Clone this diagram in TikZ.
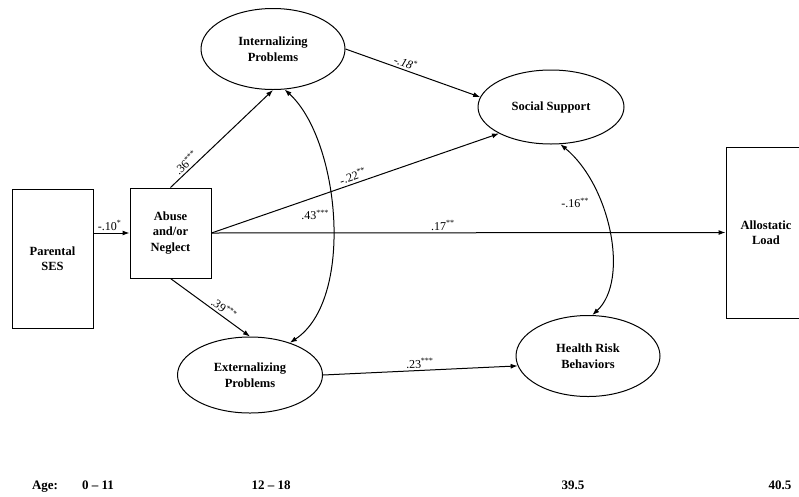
\documentclass[tikz,border=0pt]{standalone}
\usepackage{fontspec}
\setmainfont{Liberation Serif}
\usetikzlibrary{shapes.geometric,arrows.meta}
\begin{document}
\begin{tikzpicture}[x=1pt,y=-1pt,
  box/.style={draw, line width=1pt, rectangle, align=center, inner sep=0pt,
    font=\fontsize{12.5}{15.5}\selectfont\bfseries},
  oval/.style={draw, line width=1pt, ellipse, align=center, inner sep=0pt,
    font=\fontsize{12.5}{15.5}\selectfont\bfseries},
  conn/.style={line width=1pt, -{Latex[length=7pt,width=5pt]}},
  twoway/.style={line width=1pt, {Latex[length=7pt,width=5pt]}-{Latex[length=7pt,width=5pt]}},
  lab/.style={font=\fontsize{12}{14}\selectfont, inner sep=2pt},
  agelab/.style={font=\fontsize{13}{15}\selectfont\bfseries, inner sep=0pt, anchor=base}]
\useasboundingbox (0,0) rectangle (799,496);
\fill[white] (0,0) rectangle (799,496);

\node[box, minimum width=81pt, minimum height=139pt] (ses) at (52.5,258.5) {Parental\\SES};
\node[box, minimum width=81pt, minimum height=90pt] (abuse) at (170.5,233) {Abuse\\and/or\\Neglect};
\node[oval, minimum width=144pt, minimum height=81pt] (intern) at (273,49) {Internalizing\\Problems};
\node[oval, minimum width=146pt, minimum height=74pt] (social) at (551,107) {Social Support};
\node[oval, minimum width=145pt, minimum height=76pt] (extern) at (250,375) {Externalizing\\Problems};
\node[oval, minimum width=144pt, minimum height=81pt] (health) at (588,356) {Health Risk\\Behaviors};
\node[box, minimum width=80pt, minimum height=171pt] (allo) at (766,232.5) {Allostatic\\Load};

\draw[conn] (ses.east |- abuse.west) -- node[lab, above, pos=0.45] {-.10\textsuperscript{*}} (abuse.west);
\draw[conn] (abuse.north) -- node[lab, sloped, above, pos=0.2] {.36\textsuperscript{***}} (intern.south);
\draw[conn] (abuse.south) -- node[lab, sloped, above, pos=0.62] {.39\textsuperscript{***}} (extern.north);
\draw[conn] (abuse.east) -- node[lab, sloped, above, pos=0.5] {-.22\textsuperscript{**}} (social.south west);
\draw[conn] (abuse.east) -- node[lab, above, pos=0.45] {.17\textsuperscript{**}} (allo.west);
\draw[conn] (intern.east) -- node[lab, sloped, above, pos=0.43] {\textit{-.18}\textsuperscript{*}} (social.172);
\draw[conn] (extern.east) -- node[lab, sloped, above, pos=0.5] {.23\textsuperscript{***}} (health.188);

\draw[twoway] (intern.-74) .. controls (340,140) and (355,300) .. (extern.39);
\draw[twoway] (social.-76) .. controls (610,185) and (630,280) .. (health.84);

\node[lab] (l43) at (315,215) {.43\textsuperscript{***}};
\node[lab] (l16) at (575,203) {-.16\textsuperscript{**}};

\node[agelab] (age) at (45,489) {Age:};
\node[agelab] (a1) at (98,489) {0 -- 11};
\node[agelab] (a2) at (271,489) {12 -- 18};
\node[agelab] (a3) at (573,489) {39.5};
\node[agelab] (a4) at (780,489) {40.5};
\end{tikzpicture}
\end{document}
